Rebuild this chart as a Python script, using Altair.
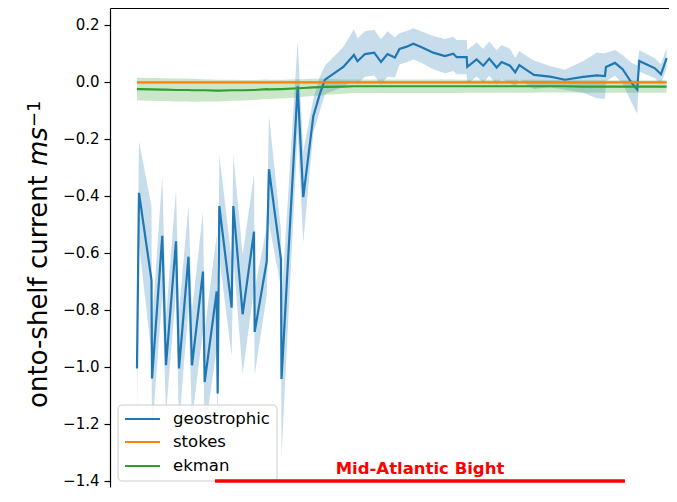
import altair as alt
import pandas as pd

# along-shelf position (arbitrary units)
x_pos = [4.76, 5.11, 7.32, 7.41, 9.22, 9.88, 11.64, 12.17, 13.84, 14.46,
         16.40, 16.70, 18.82, 18.99, 19.28, 21.46, 21.75, 23.40, 25.40, 25.52,
         27.64, 28.04, 30.16, 30.25, 33.10, 34.09, 35.86, 37.04, 37.92, 41.15,
         43.03, 43.65, 44.97, 46.61, 47.80, 48.94, 50.26, 51.06, 52.33, 53.49,
         54.97, 57.02, 59.08, 60.55, 61.15, 62.91, 63.02, 64.67, 65.84, 66.90,
         68.20, 69.08, 70.55, 71.48, 72.19, 73.77, 74.78, 77.60, 80.25, 83.47,
         85.84, 87.30, 87.48, 89.07, 90.42, 92.01, 93.00, 93.35, 96.12, 97.18,
         98.18]

geostrophic = [-1.005, -0.389, -0.695, -1.040, -0.540, -0.994, -0.559, -1.005, -0.613, -0.994,
               -0.665, -1.053, -0.735, -1.093, -0.435, -0.792, -0.435, -0.815, -0.525, -0.877,
               -0.630, -0.306, -0.622, -1.042, -0.015, -0.404, -0.120, -0.040, 0.008, 0.053,
               0.095, 0.073, 0.098, 0.103, 0.070, 0.098, 0.086, 0.116, 0.124, 0.134,
               0.122, 0.103, 0.091, 0.099, 0.087, 0.087, 0.053, 0.079, 0.057, 0.082,
               0.051, 0.070, 0.057, 0.034, 0.059, 0.038, 0.025, 0.019, 0.008, 0.018,
               0.023, 0.021, 0.053, 0.067, 0.045, -0.003, -0.026, 0.074, 0.048, 0.027,
               0.084]
geostrophic_err = [0.15, 0.18, 0.26, 0.19, 0.21, 0.17, 0.18, 0.20, 0.18, 0.19,
                   0.21, 0.18, 0.20, 0.18, 0.18, 0.17, 0.18, 0.21, 0.20, 0.15,
                   0.12, 0.19, 0.10, 0.27, 0.16, 0.16, 0.06, 0.06, 0.05, 0.07,
                   0.09, 0.08, 0.08, 0.08, 0.08, 0.08, 0.07, 0.055, 0.055, 0.055,
                   0.055, 0.058, 0.06, 0.06, 0.06, 0.06, 0.06, 0.06, 0.06, 0.06,
                   0.06, 0.06, 0.06, 0.05, 0.05, 0.05, 0.05, 0.037, 0.035, 0.056,
                   0.08, 0.08, 0.05, 0.045, 0.05, 0.07, 0.085, 0.037, 0.035, 0.035,
                   0.035]

stokes = [-0.001, -0.001, -0.001, -0.001, -0.001, -0.001, -0.001, -0.001, -0.001, -0.001,
          -0.001, -0.001, -0.001, -0.001, -0.001, -0.001, -0.001, -0.001, -0.001, -0.001,
          -0.001, -0.001, -0.001, -0.001, -0.001, -0.001, -0.001, -0.001, -0.001, -0.001,
          -0.001, -0.001, -0.001, -0.001, -0.001, -0.001, -0.001, -0.001, -0.001, -0.001,
          -0.001, -0.001, -0.001, -0.001, -0.001, -0.001, -0.001, -0.001, -0.001, -0.001,
          -0.001, -0.001, -0.001, -0.001, -0.001, -0.001, -0.001, -0.001, -0.001, -0.001,
          -0.001, -0.001, -0.001, -0.001, -0.001, -0.001, -0.001, -0.001, -0.001, -0.001,
          -0.001]
stokes_err = [0.003] * 71

ekman = [-0.025, -0.025, -0.026, -0.026, -0.027, -0.027, -0.028, -0.028, -0.028, -0.029,
         -0.029, -0.029, -0.030, -0.030, -0.030, -0.029, -0.029, -0.029, -0.028, -0.028,
         -0.025, -0.026, -0.025, -0.025, -0.022, -0.021, -0.019, -0.018, -0.017, -0.016,
         -0.015, -0.015, -0.015, -0.015, -0.015, -0.015, -0.015, -0.015, -0.015, -0.015,
         -0.015, -0.015, -0.015, -0.015, -0.015, -0.015, -0.015, -0.015, -0.015, -0.015,
         -0.015, -0.015, -0.015, -0.015, -0.015, -0.015, -0.015, -0.015, -0.015, -0.016,
         -0.016, -0.016, -0.016, -0.016, -0.016, -0.016, -0.016, -0.016, -0.016, -0.016,
         -0.016]
ekman_err = [0.040, 0.040, 0.040, 0.040, 0.040, 0.040, 0.040, 0.040, 0.040, 0.040,
             0.039, 0.039, 0.038, 0.038, 0.038, 0.037, 0.037, 0.036, 0.035, 0.035,
             0.034, 0.034, 0.033, 0.033, 0.032, 0.031, 0.030, 0.029, 0.028, 0.025,
             0.024, 0.024, 0.024, 0.024, 0.024, 0.024, 0.024, 0.024, 0.024, 0.024,
             0.024, 0.024, 0.024, 0.024, 0.024, 0.023, 0.023, 0.023, 0.023, 0.023,
             0.023, 0.023, 0.023, 0.023, 0.023, 0.023, 0.023, 0.022, 0.022, 0.022,
             0.022, 0.022, 0.022, 0.022, 0.022, 0.022, 0.022, 0.022, 0.022, 0.022,
             0.022]

series_names = ["geostrophic", "stokes", "ekman"]
series_colors = ["#1f77b4", "#ff7f0e", "#2ca02c"]
y_ticks = [-1.4, -1.2, -1.0, -0.8, -0.6, -0.4, -0.2, 0.0, 0.2]
y_domain = [-1.4211, 0.25965]
x_domain = [0, 98.6]

title_parts = ["onto-shelf current", "ms", "\u22121"]
bight_x = [18.52, 90.83]
bight_y = -1.4
bight_label = "Mid-Atlantic Bight"

rows = []
for name, vals, errs in zip(series_names, [geostrophic, stokes, ekman],
                            [geostrophic_err, stokes_err, ekman_err]):
    for xv, v, e in zip(x_pos, vals, errs):
        rows.append({"x": xv, "value": v, "lo": v - e, "hi": v + e,
                     "series": name, "band": name})
df = pd.DataFrame(rows)

FONT = "DejaVu Sans"
xs = alt.Scale(domain=x_domain, nice=False, zero=False)
ys = alt.Scale(domain=y_domain, nice=False, zero=False)
x_axis = alt.Axis(orient="top", labels=False, ticks=False, title=None,
                  domain=True, grid=False)
y_axis = alt.Axis(values=y_ticks, format=".1f", title=None, grid=False)

bands = alt.Chart(df).mark_area(opacity=0.25, clip=True).encode(
    x=alt.X("x:Q", scale=xs, axis=x_axis),
    y=alt.Y("lo:Q", scale=ys, axis=y_axis),
    y2="hi:Q",
    fill=alt.Fill("band:N", scale=alt.Scale(domain=series_names, range=series_colors),
                  legend=None),
)


def series_line(name, color):
    return alt.Chart(df).transform_filter(
        alt.datum.series == name
    ).mark_line(strokeWidth=2.2, clip=True, color=color).encode(
        x=alt.X("x:Q", scale=xs, axis=x_axis),
        y=alt.Y("value:Q", scale=ys, axis=y_axis),
    )


lines = [series_line(n, c) for n, c in zip(series_names, series_colors)]

bight_df = pd.DataFrame({"x": [bight_x[0]], "x2": [bight_x[1]], "y": [bight_y],
                         "xm": [(bight_x[0] + bight_x[1]) / 2], "label": [bight_label]})
bight_rule = alt.Chart(bight_df).mark_rule(color="red", strokeWidth=3.5).encode(
    x=alt.X("x:Q", scale=xs), x2="x2:Q", y=alt.Y("y:Q", scale=ys))
bight_text = alt.Chart(bight_df).mark_text(
    color="red", font=FONT, fontSize=16.5, fontWeight="bold",
    align="center", baseline="alphabetic", dy=-7,
).encode(x=alt.X("xm:Q", scale=xs), y=alt.Y("y:Q", scale=ys), text="label:N")

# y-axis title: plain part, italic unit, superscript exponent
t1 = alt.Chart(pd.DataFrame({"t": [title_parts[0]]})).mark_text(
    angle=270, align="left", baseline="alphabetic", font=FONT, fontSize=26, color="black"
).encode(x=alt.value(-63), y=alt.value(400), text="t:N")
t2 = alt.Chart(pd.DataFrame({"t": [title_parts[1]]})).mark_text(
    angle=270, align="left", baseline="alphabetic", font=FONT, fontSize=26,
    fontStyle="italic", color="black"
).encode(x=alt.value(-63), y=alt.value(158), text="t:N")
t3 = alt.Chart(pd.DataFrame({"t": [title_parts[2]]})).mark_text(
    angle=270, align="left", baseline="alphabetic", font=FONT, fontSize=18, color="black"
).encode(x=alt.value(-70), y=alt.value(119), text="t:N")

# legend box (matplotlib style, lower left)
leg_x0, leg_x1, leg_y0, leg_y1 = 8, 167, 397, 473
leg_rows = [411, 434, 458]
legend_layers = [
    alt.Chart(pd.DataFrame({"k": [0]})).mark_rect(
        fill="white", fillOpacity=0.8, stroke="#cccccc", strokeWidth=1, cornerRadius=4
    ).encode(x=alt.value(leg_x0), x2=alt.value(leg_x1),
             y=alt.value(leg_y0), y2=alt.value(leg_y1))
]
for name, color, ry in zip(series_names, series_colors, leg_rows):
    legend_layers.append(
        alt.Chart(pd.DataFrame({"label": [name]})).mark_rule(
            color=color, strokeWidth=2.2
        ).encode(x=alt.value(15), x2=alt.value(50), y=alt.value(ry))
    )
    legend_layers.append(
        alt.Chart(pd.DataFrame({"label": [name]})).mark_text(
            align="left", baseline="middle", font=FONT, fontSize=16.5, color="black"
        ).encode(x=alt.value(63), y=alt.value(ry), text="label:N")
    )

chart = alt.layer(bands, *lines, *legend_layers, bight_rule, bight_text,
                  t1, t2, t3).properties(
    width=559, height=479,
    autosize=alt.AutoSizeParams(type="none"),
    padding={"left": 102, "top": 0, "right": 0, "bottom": 3},
    background="white",
).configure_view(stroke=None).configure_axis(
    labelFont=FONT, titleFont=FONT,
).configure_axisY(
    labelFontSize=15, labelColor="black", tickColor="black", domainColor="black",
    tickSize=6, tickWidth=1.2, domainWidth=1.2, labelPadding=5,
).configure_axisX(domainColor="black", domainWidth=1.2)

chart.save("out.html", embed_options={"renderer": "svg", "actions": False})
